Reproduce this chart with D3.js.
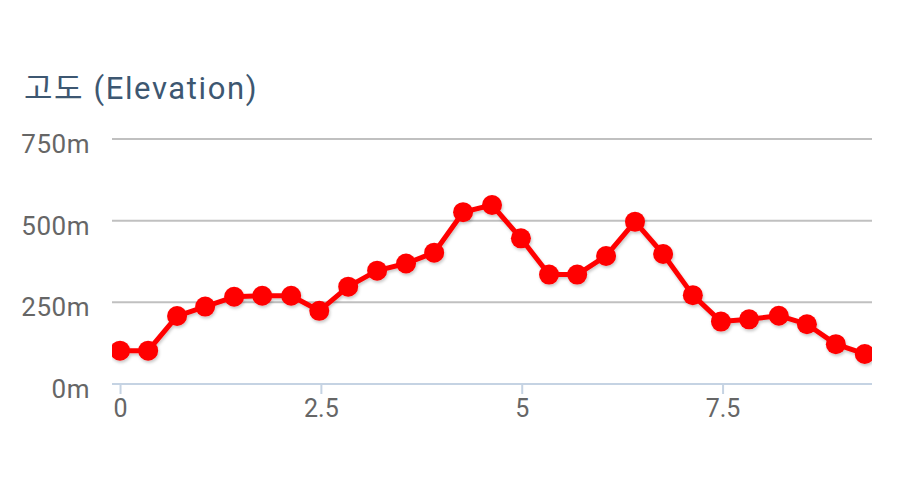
<!DOCTYPE html>
<html>
<head>
<meta charset="utf-8">
<script src="https://cdn.jsdelivr.net/npm/d3@7"></script>
<style>
  html, body { margin: 0; padding: 0; background: #fff; }
  svg { display: block; font-family: Roboto, "Noto Sans CJK KR", sans-serif; }
</style>
</head>
<body>
<div id="chart"></div>
<script>
var TITLE = "고도 (Elevation)";

// distance along the route and elevation in metres
var distances = [0, 0.35, 0.71, 1.06, 1.42, 1.77, 2.13, 2.48, 2.84, 3.2, 3.56, 3.91, 4.27,
    4.63, 4.99, 5.34, 5.69, 6.05, 6.41, 6.76, 7.13, 7.48, 7.83, 8.2, 8.55, 8.91, 9.27];
var elevations = [102, 102, 208, 237, 267, 270, 270, 224, 298, 347, 369, 402, 526,
    548, 446, 335, 335, 392, 497, 398, 272, 191, 198, 209, 183, 122, 92];

var xTicks = [0, 2.5, 5, 7.5];
var xTickLabels = ["0", "2.5", "5", "7.5"];
var yTicks = [0, 250, 500, 750];
var yTickLabels = ["0m", "250m", "500m", "750m"];

var width = 897,
    height = 490,
    margin = {top: 139, right: 25, bottom: 106, left: 112};

var plotW = width - margin.left - margin.right,
    plotH = height - margin.top - margin.bottom;

var xScale = d3.scaleLinear()
    .domain([-0.1, 9.36])
    .range([0, plotW]);

var yScale = d3.scaleLinear()
    .domain([0, 750])
    .range([plotH, 0]);

var points = distances.map(function(d, i) { return {x: d, y: elevations[i]}; });

var svg = d3.select("#chart")
    .append("svg")
    .attr("width", width)
    .attr("height", height);

var defs = svg.append("defs");
defs.append("clipPath")
    .attr("id", "plotClip")
    .append("rect")
    .attr("x", 0)
    .attr("y", -20)
    .attr("width", plotW)
    .attr("height", plotH + 40);

var shadow = defs.append("filter")
    .attr("id", "shadow")
    .attr("x", "-10%").attr("y", "-10%")
    .attr("width", "120%").attr("height", "130%");
shadow.append("feDropShadow")
    .attr("dx", 1).attr("dy", 2)
    .attr("stdDeviation", 1.5)
    .attr("flood-color", "#000")
    .attr("flood-opacity", 0.22);

svg.append("text")
    .attr("x", 24)
    .attr("y", 99)
    .attr("fill", "#3d5771")
    .style("font-size", "31px")
    .style("letter-spacing", "1.6px")
    .text(TITLE);

var g = svg.append("g")
    .attr("transform", "translate(" + margin.left + "," + margin.top + ")");

// grid lines
g.selectAll(".grid")
    .data(yTicks.filter(function(d) { return d > 0; }))
    .enter()
    .append("line")
    .attr("class", "grid")
    .attr("x1", 0)
    .attr("x2", plotW)
    .attr("y1", function(d) { return yScale(d); })
    .attr("y2", function(d) { return yScale(d); })
    .attr("stroke", "#c0c0c0")
    .attr("stroke-width", 2);

// y labels
g.selectAll(".ylab")
    .data(yTicks)
    .enter()
    .append("text")
    .attr("class", "ylab")
    .attr("x", -22)
    .attr("y", function(d) { return yScale(d) + 14; })
    .attr("text-anchor", "end")
    .attr("fill", "#666666")
    .style("font-size", "26px")
    .style("letter-spacing", "0.5px")
    .text(function(d, i) { return yTickLabels[i]; });

// x axis
var xAxis = d3.axisBottom(xScale)
    .tickValues(xTicks)
    .tickFormat(function(d, i) { return xTickLabels[i]; })
    .tickSize(10)
    .tickPadding(5);

var xg = g.append("g")
    .attr("transform", "translate(0," + plotH + ")")
    .call(xAxis);
xg.select(".domain")
    .attr("d", "M0,0H" + plotW)
    .attr("stroke", "#c5d3e3")
    .attr("stroke-width", 2);
xg.selectAll(".tick line")
    .attr("stroke", "#c5d3e3")
    .attr("stroke-width", 2);
xg.selectAll(".tick text")
    .attr("fill", "#666666")
    .style("font-size", "25px")
    .style("font-family", "Roboto, sans-serif");

// series
var line = d3.line()
    .x(function(d) { return xScale(d.x); })
    .y(function(d) { return yScale(d.y); });

var series = g.append("g")
    .attr("clip-path", "url(#plotClip)")
    .attr("filter", "url(#shadow)");

series.append("path")
    .datum(points)
    .attr("d", line)
    .attr("fill", "none")
    .attr("stroke", "#ff0000")
    .attr("stroke-width", 5)
    .attr("stroke-linejoin", "round");

series.selectAll(".dot")
    .data(points)
    .enter()
    .append("circle")
    .attr("class", "dot")
    .attr("cx", function(d) { return xScale(d.x); })
    .attr("cy", function(d) { return yScale(d.y); })
    .attr("r", 10)
    .attr("fill", "#ff0000");
</script>
</body>
</html>
